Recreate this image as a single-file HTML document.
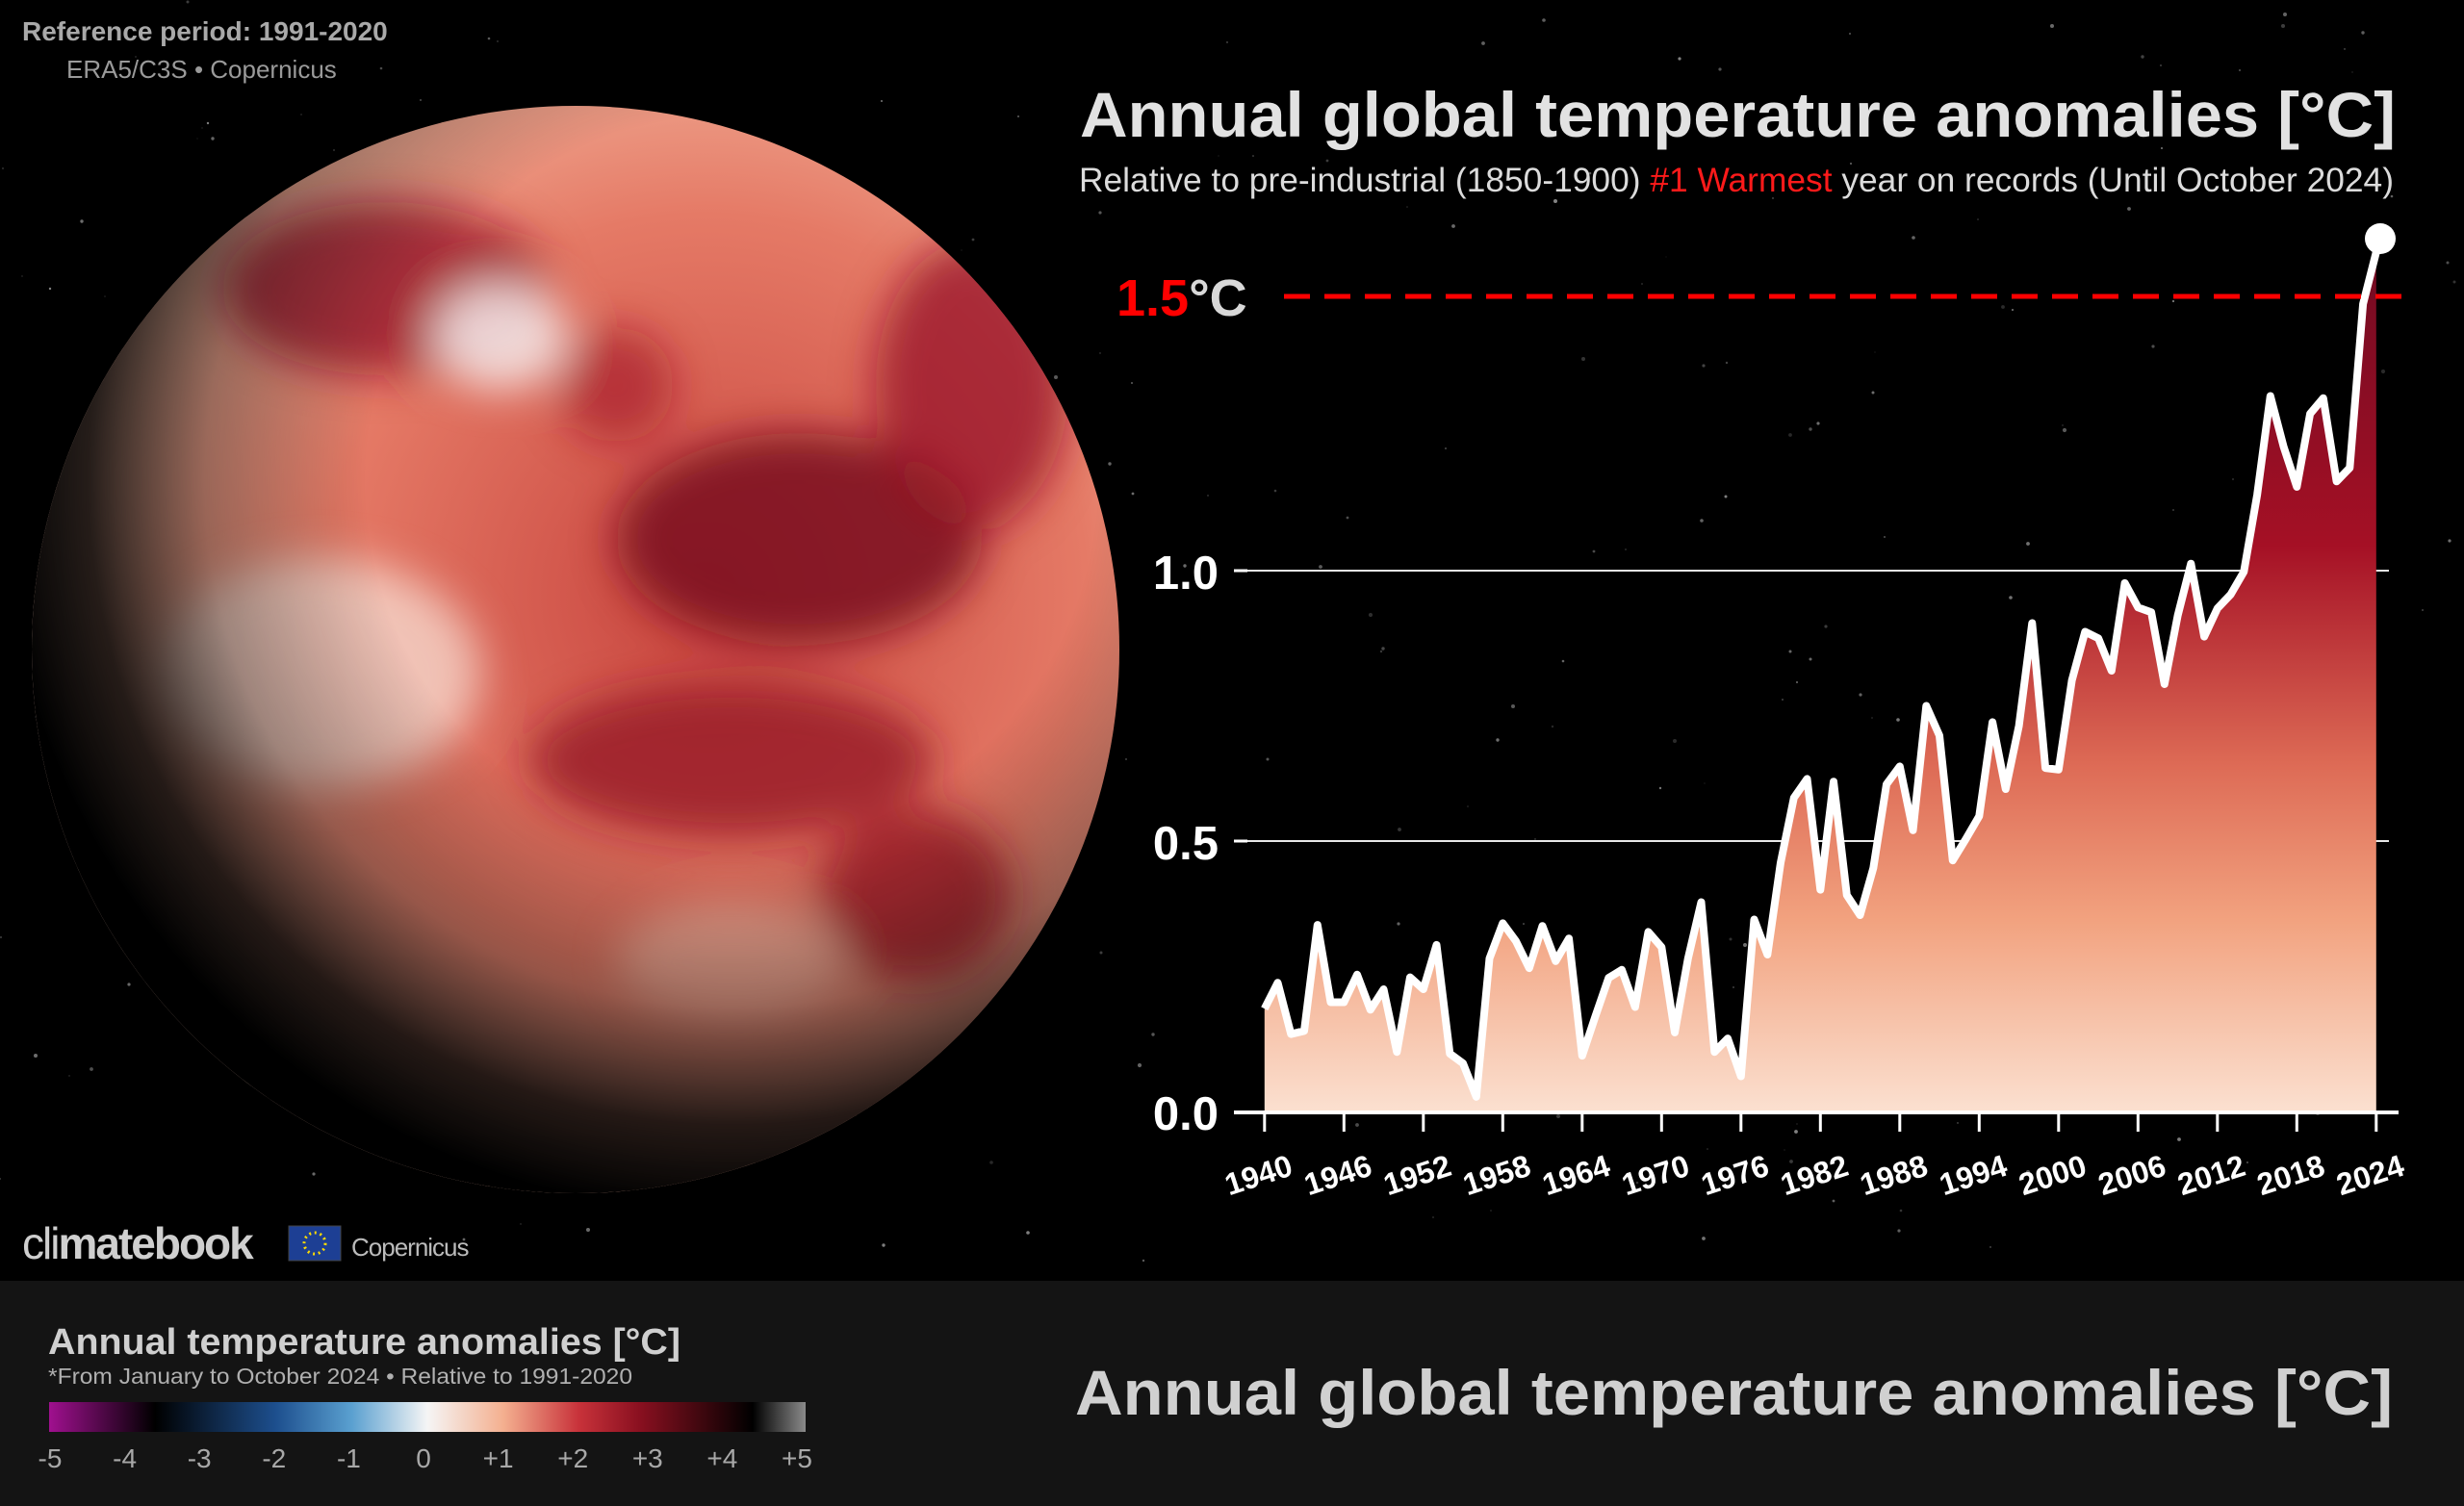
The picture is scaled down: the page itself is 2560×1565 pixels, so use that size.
<!DOCTYPE html>
<html><head><meta charset="utf-8">
<style>
html,body{margin:0;padding:0;background:#000;}
svg{display:block;}
text{font-family:"Liberation Sans",sans-serif;}
</style></head>
<body>
<svg id="s" width="2560" height="1565" viewBox="0 0 2560 1565" xmlns="http://www.w3.org/2000/svg">
<defs>
<linearGradient id="fill" gradientUnits="userSpaceOnUse" x1="0" y1="250" x2="0" y2="1155">
<stop offset="0" stop-color="#700a22"/>
<stop offset="0.35" stop-color="#a51025"/>
<stop offset="0.6" stop-color="#dd6a55"/>
<stop offset="0.78" stop-color="#f2a27f"/>
<stop offset="1" stop-color="#fbe0d0"/>
</linearGradient>
<radialGradient id="globe" cx="0.62" cy="0.45" r="0.7">
<stop offset="0" stop-color="#c8443e"/>
<stop offset="0.5" stop-color="#e57a66"/>
<stop offset="0.8" stop-color="#f3b8a0"/>
<stop offset="1" stop-color="#f8dccf"/>
</radialGradient>
<radialGradient id="shade" gradientUnits="userSpaceOnUse" cx="760" cy="500" r="760">
<stop offset="0.5" stop-color="#000" stop-opacity="0"/>
<stop offset="0.72" stop-color="#000" stop-opacity="0.35"/>
<stop offset="0.88" stop-color="#000" stop-opacity="0.85"/>
<stop offset="1" stop-color="#000" stop-opacity="1"/>
</radialGradient>
<linearGradient id="cbar" x1="0" x2="1" y1="0" y2="0">
<stop offset="0" stop-color="#a0108f"/>
<stop offset="0.14" stop-color="#000"/>
<stop offset="0.3" stop-color="#1d4f8e"/>
<stop offset="0.4" stop-color="#5aa0d0"/>
<stop offset="0.5" stop-color="#f5f5f5"/>
<stop offset="0.6" stop-color="#f4b090"/>
<stop offset="0.7" stop-color="#c8323a"/>
<stop offset="0.78" stop-color="#8a1020"/>
<stop offset="0.93" stop-color="#000"/>
<stop offset="1" stop-color="#8a8a8a"/>
</linearGradient>
<filter id="blur"><feGaussianBlur stdDeviation="22"/></filter>
<clipPath id="gc"><circle cx="598" cy="675" r="565"/></clipPath>
</defs>
<rect width="2560" height="1565" fill="#000"/>
<g id="stars" fill="#bbb"></g>
<!-- globe -->
<circle cx="598" cy="675" r="565" fill="url(#globe)"/>
<g clip-path="url(#gc)" filter="url(#blur)">
<ellipse cx="830" cy="560" rx="190" ry="110" fill="#7a0c1c" opacity="0.85"/>
<ellipse cx="400" cy="300" rx="170" ry="90" fill="#961628" opacity="0.75"/>
<ellipse cx="760" cy="790" rx="210" ry="80" fill="#961626" opacity="0.8"/>
<ellipse cx="950" cy="930" rx="100" ry="90" fill="#a01828" opacity="0.8"/>
<ellipse cx="1010" cy="400" rx="100" ry="150" fill="#961626" opacity="0.75"/>
<ellipse cx="640" cy="400" rx="60" ry="60" fill="#a01828" opacity="0.6"/>
<ellipse cx="520" cy="350" rx="70" ry="55" fill="#f4ecec" opacity="0.85"/>
<ellipse cx="330" cy="700" rx="170" ry="120" fill="#f8e6dc" opacity="0.7"/>
<ellipse cx="760" cy="1000" rx="120" ry="60" fill="#f3c0aa" opacity="0.6"/>
</g>
<circle cx="598" cy="675" r="565" fill="url(#shade)"/>
<!-- top-left text -->
<text x="23" y="42" font-size="28" font-weight="bold" fill="#a9a9a9">Reference period: 1991-2020</text>
<text x="69" y="81" font-size="26" fill="#9a9a9a">ERA5/C3S • Copernicus</text>
<!-- titles -->
<text x="1122" y="142" font-size="66" font-weight="bold" fill="#e2e2e2" textLength="1367" lengthAdjust="spacingAndGlyphs">Annual global temperature anomalies [°C]</text>
<text x="1121" y="199" font-size="35" fill="#dcdcdc" textLength="1366" lengthAdjust="spacingAndGlyphs">Relative to pre-industrial (1850-1900) <tspan fill="#ff1a1a">#1 Warmest</tspan> year on records (Until October 2024)</text>
<!-- grid -->
<line x1="1282" y1="593" x2="2482" y2="593" stroke="#e8e8e8" stroke-width="2"/>
<line x1="1282" y1="874" x2="2482" y2="874" stroke="#e8e8e8" stroke-width="2"/>
<path id="area" fill="url(#fill)"/>
<polyline id="ln" fill="none" stroke="#fff" stroke-width="8" stroke-linejoin="round"/>
<circle cx="2473" cy="248" r="16" fill="#fff"/>
<line x1="1334" y1="308" x2="2502" y2="308" stroke="#f00" stroke-width="5" stroke-dasharray="27 15"/>
<text x="1160" y="328" font-size="54" font-weight="bold" fill="#f00">1.5<tspan fill="#d8d8d8">°C</tspan></text>
<!-- axes -->
<line x1="1282" y1="1156" x2="2492" y2="1156" stroke="#fff" stroke-width="4"/>
<g stroke="#fff" stroke-width="3">
<line x1="1282" y1="593" x2="1296" y2="593"/><line x1="1282" y1="874" x2="1296" y2="874"/>
</g>
<g font-size="49" font-weight="bold" fill="#fff" text-anchor="end">
<text x="1266" y="612">1.0</text><text x="1266" y="893">0.5</text><text x="1266" y="1174">0.0</text>
</g>
<g id="xt"></g>
<!-- logos -->
<text x="23" y="1308" font-size="46" fill="#cfcfcf" letter-spacing="-2">cli<tspan font-weight="bold">matebook</tspan></text>
<rect x="300" y="1274" width="54" height="36" fill="#1d3f94" stroke="#444" stroke-width="1"/>
<circle cx="327" cy="1292" r="11" fill="none" stroke="#ffdd00" stroke-width="3" stroke-dasharray="2 3.7"/>
<text x="365" y="1305" font-size="26" fill="#bbb" letter-spacing="-1">Copernicus</text>
<!-- bottom panel -->
<rect x="0" y="1331" width="2560" height="234" fill="#141414"/>
<text x="50" y="1407" font-size="38" font-weight="bold" fill="#cfcfcf" textLength="657" lengthAdjust="spacingAndGlyphs">Annual temperature anomalies [°C]</text>
<text x="50" y="1438" font-size="23" fill="#b0b0b0" textLength="607" lengthAdjust="spacingAndGlyphs">*From January to October 2024 • Relative to 1991-2020</text>
<rect x="51" y="1457" width="786" height="31" fill="url(#cbar)"/>
<g id="cl" font-size="28" fill="#a8a8a8" text-anchor="middle"></g>
<text x="1117" y="1470" font-size="66" font-weight="bold" fill="#d0d0d0" textLength="1369" lengthAdjust="spacingAndGlyphs">Annual global temperature anomalies [°C]</text>
</svg>
<script>
var v=[0.19,0.238,0.143,0.149,0.345,0.202,0.202,0.253,0.188,0.226,0.11,0.248,0.226,0.308,0.107,0.089,0.027,0.283,0.348,0.315,0.265,0.343,0.278,0.32,0.103,0.176,0.247,0.262,0.193,0.332,0.304,0.146,0.283,0.387,0.11,0.135,0.065,0.355,0.29,0.46,0.58,0.615,0.41,0.61,0.40,0.363,0.45,0.605,0.638,0.52,0.75,0.695,0.464,0.504,0.546,0.72,0.596,0.713,0.903,0.635,0.632,0.797,0.887,0.875,0.815,0.977,0.932,0.923,0.79,0.917,1.013,0.878,0.93,0.956,0.998,1.14,1.323,1.229,1.155,1.29,1.319,1.165,1.19,1.493,1.589];
function X(i){return 1313.8+13.75*i;}function Y(a){return 1155-562*a;}
var p=[];for(var i=0;i<v.length;i++)p.push(X(i).toFixed(1)+","+Y(v[i]).toFixed(1));
document.getElementById('ln').setAttribute('points',p.join(' '));
document.getElementById('area').setAttribute('d','M'+X(0)+',1155 L'+p.join(' L')+' L'+X(84)+',1155Z');
var xt=document.getElementById('xt'),h='';
for(var y=1940;y<=2024;y+=6){var x=X(y-1940);
h+='<line x1="'+x+'" y1="1158" x2="'+x+'" y2="1176" stroke="#fff" stroke-width="3"/>';
h+='<text x="'+(x-6)+'" y="1232" font-size="32" font-weight="bold" fill="#fff" text-anchor="middle" transform="rotate(-18 '+(x-6)+' 1222)">'+y+'</text>';}
xt.innerHTML=h;
var cl=document.getElementById('cl'),l=['-5','-4','-3','-2','-1','0','+1','+2','+3','+4','+5'],c='';
for(var k=0;k<11;k++)c+='<text x="'+(52+k*77.6)+'" y="1525">'+l[k]+'</text>';cl.innerHTML=c;
var st=document.getElementById('stars'),s='',seed=7;function r(){seed=(seed*16807)%2147483647;return seed/2147483647;}
for(var k=0;k<260;k++){s+='<circle cx="'+(r()*2560).toFixed(0)+'" cy="'+(r()*1330).toFixed(0)+'" r="'+(r()*1.6+0.5).toFixed(1)+'" opacity="'+(r()*0.5+0.2).toFixed(2)+'"/>';}
st.innerHTML=s;
</script>
</body></html>
